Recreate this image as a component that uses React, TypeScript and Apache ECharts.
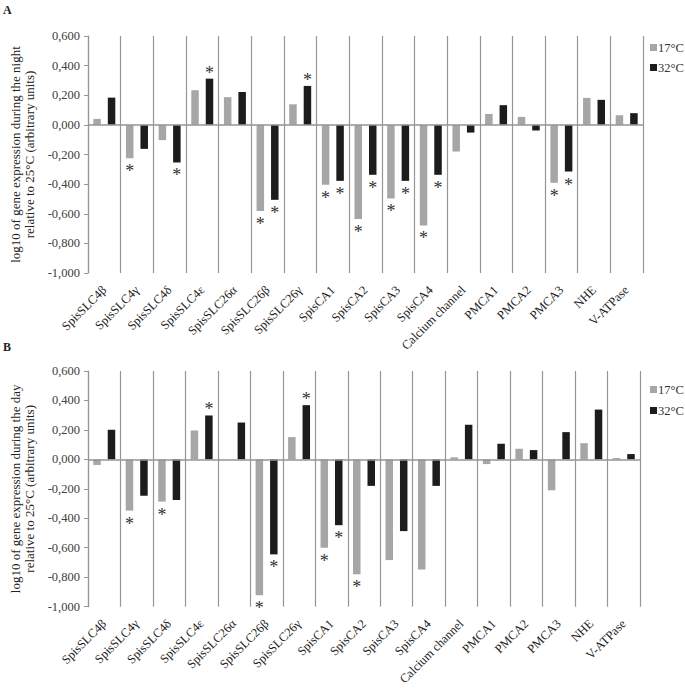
import React, { useEffect, useRef } from "react";
import * as echarts from "echarts";

const categories = [
  "SpisSLC4β", "SpisSLC4γ", "SpisSLC4δ", "SpisSLC4ε", "SpisSLC26α", "SpisSLC26β",
  "SpisSLC26γ", "SpisCA1", "SpisCA2", "SpisCA3", "SpisCA4", "Calcium channel",
  "PMCA1", "PMCA2", "PMCA3", "NHE", "V-ATPase",
];

// Panel A (night)
const night17 = [0.040, -0.225, -0.103, 0.234, 0.187, -0.582, 0.139, -0.404, -0.636, -0.497, -0.679, -0.180, 0.074, 0.054, -0.391, 0.182, 0.065];
const night32 = [0.184, -0.162, -0.254, 0.312, 0.222, -0.506, 0.263, -0.378, -0.337, -0.378, -0.337, -0.052, 0.133, -0.038, -0.315, 0.169, 0.079];
const nightSig17 = [0, 1, 0, 0, 0, 1, 0, 1, 1, 1, 1, 0, 0, 0, 1, 0, 0];
const nightSig32 = [0, 0, 1, 1, 0, 1, 1, 1, 1, 1, 1, 0, 0, 0, 1, 0, 0];

// Panel B (day)
const day17 = [-0.038, -0.348, -0.287, 0.196, 0.0, -0.922, 0.151, -0.600, -0.780, -0.684, -0.747, 0.014, -0.032, 0.072, -0.210, 0.110, 0.009];
const day32 = [0.201, -0.247, -0.276, 0.298, 0.250, -0.645, 0.368, -0.447, -0.180, -0.487, -0.180, 0.235, 0.106, 0.063, 0.185, 0.338, 0.036];
const daySig17 = [0, 1, 1, 0, 0, 1, 0, 1, 1, 0, 0, 0, 0, 0, 0, 0, 0];
const daySig32 = [0, 0, 0, 1, 0, 1, 1, 1, 0, 0, 0, 0, 0, 0, 0, 0, 0];

const seriesNames = ["17°C", "32°C"];
const yTicks = { min: -1, max: 0.6, interval: 0.2 };

const FONT = "Liberation Serif";
const GRAY = "#a6a6a6";
const BLACK = "#1c1c1c";
const LINE = "#959595";

function withStars(values: number[], sig: number[]) {
  return values.map((v, i) =>
    sig[i]
      ? {
          value: v,
          label: {
            show: true,
            position: v < 0 ? "bottom" : "top",
            distance: v < 0 ? 4 : -3,
            formatter: "*",
            fontSize: 18,
            fontFamily: FONT,
            color: "#333",
          },
        }
      : { value: v }
  );
}

export default function App() {
  const ref = useRef<HTMLDivElement>(null);
  useEffect(() => {
    document.body.style.margin = "0";
    const chart = echarts.init(ref.current!, null, { renderer: "svg" });
    const grids = [
      { left: 81, top: 36, width: 562, height: 237 },
      { left: 81, top: 371, width: 559, height: 237 },
    ];
    const names = [
      "log10 of gene expression during the night\nrelative to 25°C (arbitrary units)",
      "log10 of gene expression during the day\nrelative to 25°C (arbitrary units)",
    ];
    const xAxes = grids.map((_, i) => ({
      type: "category",
      gridIndex: i,
      data: categories,
      boundaryGap: true,
      axisLine: { show: false, onZero: false },
      axisTick: { show: false },
      splitLine: { show: true, interval: 0, lineStyle: { color: LINE, width: 1.2 } },
      axisLabel: {
        interval: 0,
        rotate: 45,
        margin: 15,
        fontSize: 12.5,
        fontFamily: FONT,
        color: "#222",
      },
    }));
    const yAxes = grids.map((_, i) => ({
      type: "value",
      gridIndex: i,
      min: yTicks.min,
      max: yTicks.max,
      interval: yTicks.interval,
      name: names[i],
      nameLocation: "middle",
      nameRotate: 90,
      nameGap: 52,
      nameTextStyle: { fontSize: 13, fontFamily: FONT, color: "#222", lineHeight: 14 },
      axisLine: { show: true, lineStyle: { color: LINE, width: 1.2 } },
      axisTick: { show: true, length: 4, lineStyle: { color: LINE } },
      splitLine: { show: false },
      axisLabel: {
        fontSize: 12.5,
        fontFamily: FONT,
        color: "#404040",
        margin: 8,
        formatter: (v: number) => (Math.abs(v) < 1e-9 ? "0,000" : v.toFixed(3).replace(".", ",")),
      },
    }));
    const zeroLine = {
      silent: true,
      symbol: "none",
      label: { show: false },
      lineStyle: { color: LINE, type: "solid", width: 1.5 },
      data: [{ yAxis: 0 }],
    };
    const mk = (name: string, idx: number, values: number[], sig: number[], color: string, withZero: boolean) => ({
      name,
      type: "bar",
      xAxisIndex: idx,
      yAxisIndex: idx,
      barWidth: 7.5,
      barGap: "93%",
      itemStyle: { color },
      data: withStars(values, sig),
      ...(withZero ? { markLine: zeroLine } : {}),
    });
    const legendBase = {
      data: seriesNames,
      orient: "vertical",
      left: 645,
      itemWidth: 7,
      itemHeight: 7,
      icon: "rect",
      textStyle: { fontSize: 12.5, fontFamily: FONT, color: "#333", padding: [0, 0, 0, -4] },
    };
    chart.setOption({
      animation: false,
      backgroundColor: "#fff",
      textStyle: { fontFamily: FONT },
      grid: grids,
      xAxis: xAxes,
      yAxis: yAxes,
      legend: [
        { ...legendBase, top: 36, itemGap: 7 },
        { ...legendBase, top: 378, itemGap: 8 },
      ],
      graphic: [
        { type: "text", left: 3, top: 4, style: { text: "A", fontSize: 12, fontWeight: "bold", fontFamily: FONT, fill: "#222" } },
        { type: "text", left: 3, top: 341, style: { text: "B", fontSize: 12, fontWeight: "bold", fontFamily: FONT, fill: "#222" } },
      ],
      series: [
        mk(seriesNames[0], 0, night17, nightSig17, GRAY, true),
        mk(seriesNames[1], 0, night32, nightSig32, BLACK, false),
        mk(seriesNames[0], 1, day17, daySig17, GRAY, true),
        mk(seriesNames[1], 1, day32, daySig32, BLACK, false),
      ],
    });
    return () => chart.dispose();
  }, []);
  return <div ref={ref} style={{ width: 685, height: 688 }} />;
}
